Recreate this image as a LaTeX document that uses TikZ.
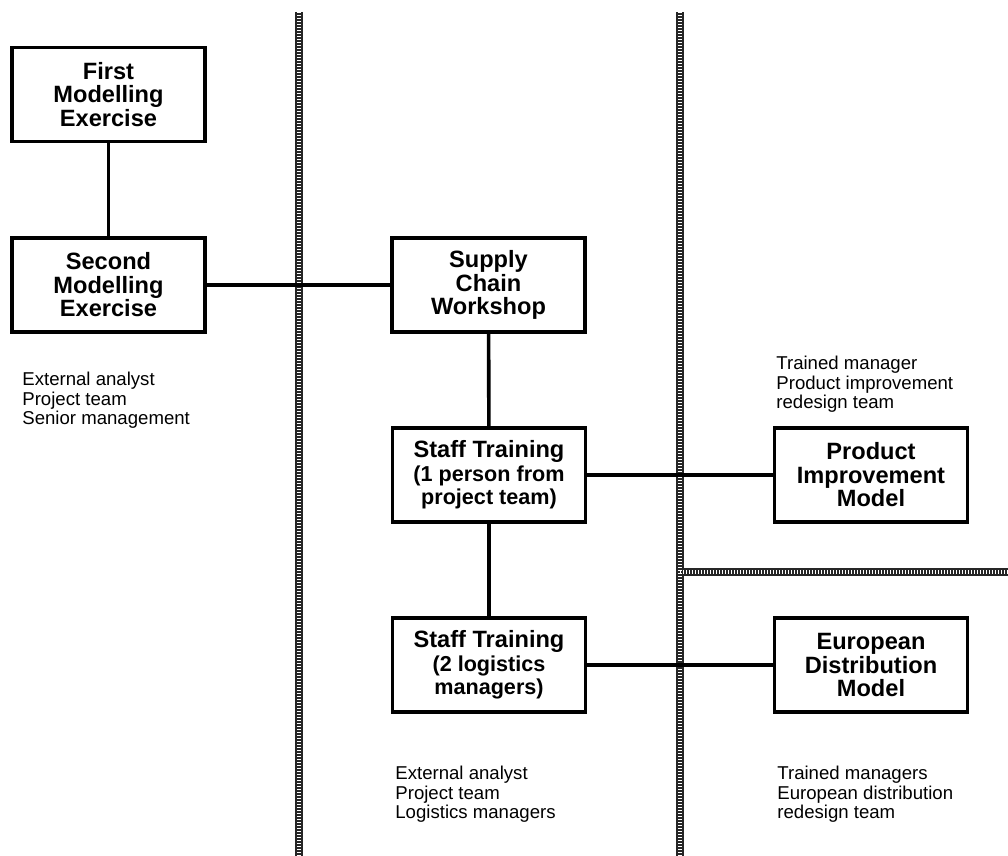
\documentclass[tikz,border=0pt]{standalone}
\usepackage{fontspec}
\setmainfont{Liberation Sans}
\newcommand{\smallline}[1]{{\fontsize{10.8}{11.75}\selectfont #1}}
\begin{document}
\begin{tikzpicture}[x=0.5pt,y=-0.5pt,
  stage/.style={draw,line width=1.6pt,minimum width=96.5pt,minimum height=47pt,
    inner sep=0pt,align=center,font=\bfseries\fontsize{11.8}{11.75}\selectfont},
  who/.style={anchor=north west,inner sep=0pt,align=left,
    font=\fontsize{9.3}{9.75}\selectfont},
  link/.style={line width=1.8pt},
  divider/.style={line width=4.2pt,draw=black!85},
  dividerdots/.style={line width=1.6pt,draw=white,dash pattern=on 0.5pt off 1pt}]
\useasboundingbox (0,0) rectangle (1008,856);
\coordinate (dA1) at (299,12);
\coordinate (dA2) at (299,856);
\coordinate (dB1) at (680,12);
\coordinate (dB2) at (680,856);
\coordinate (dC1) at (680,572);
\coordinate (dC2) at (1008,572);
\draw[divider] (dA1) -- (dA2);
\draw[divider] (dB1) -- (dB2);
\draw[divider] (dC1) -- (dC2);
\draw[dividerdots] (dA1) -- (dA2);
\draw[dividerdots] (dB1) -- (dB2);
\draw[dividerdots] (dC1) -- (dC2);
\node[stage] (first) at (108.5,94.5) {First\\Modelling\\Exercise};
\node[stage] (second) at (108.5,285) {Second\\Modelling\\Exercise};
\node[stage] (supply) at (488.5,285) {Supply\\Chain\\Workshop};
\node[stage] (staffA) at (489,475) {Staff Training\\\smallline{(1 person from}\\\smallline{project team)}};
\node[stage] (product) at (871,475) {Product\\Improvement\\Model};
\node[stage] (staffB) at (489,665) {Staff Training\\\smallline{(2 logistics}\\\smallline{managers)}};
\node[stage] (european) at (871,665) {European\\Distribution\\Model};
\draw[link] (first) -- (second);
\draw[link] (second) -- (supply);
\draw[link] (supply) -- (staffA);
\draw[link] (staffA) -- (product);
\draw[link] (staffA) -- (staffB);
\draw[link] (staffB) -- (european);
\node[who] (teamA) at (22,372) {External analyst\\Project team\\Senior management};
\node[who] (teamB) at (776,356) {Trained manager\\Product improvement\\redesign team};
\node[who] (teamC) at (395,766) {External analyst\\Project team\\Logistics managers};
\node[who] (teamD) at (777,766) {Trained managers\\European distribution\\redesign team};
\end{tikzpicture}
\end{document}
